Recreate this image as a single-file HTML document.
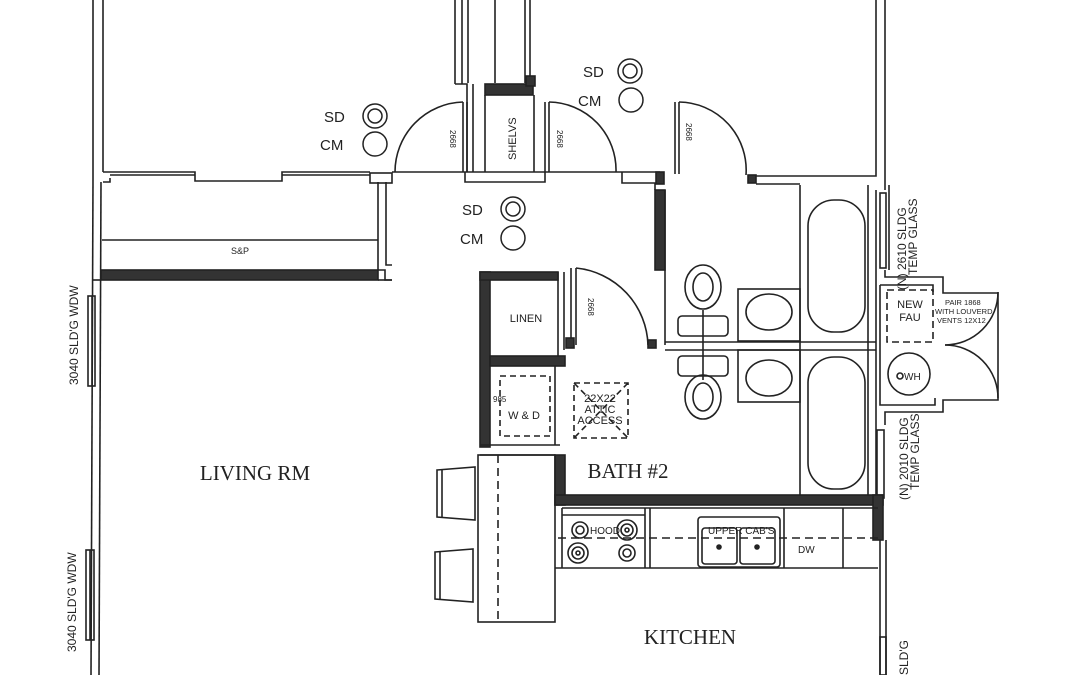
<!DOCTYPE html>
<html><head><meta charset="utf-8"><style>
html,body{margin:0;padding:0;background:#fff;}
svg{display:block;}
text{font-family:"Liberation Sans",sans-serif;fill:#222;}
.s{font-family:"Liberation Serif",serif;}
</style></head><body>
<svg width="1080" height="675" viewBox="0 0 1080 675" xmlns="http://www.w3.org/2000/svg" fill="none" stroke="#222" stroke-width="1.6">
<!-- left exterior wall -->
<line x1="93" y1="0" x2="93" y2="180"/><line x1="103" y1="0" x2="103" y2="172"/>
<line x1="93" y1="180" x2="91" y2="675"/><line x1="101" y1="182" x2="99" y2="675"/>
<line x1="93" y1="280" x2="101" y2="280"/>
<!-- windows left -->
<rect x="88" y="296" width="7" height="90"/><line x1="92" y1="296" x2="92" y2="386"/>
<rect x="86" y="550" width="8" height="90"/><line x1="90" y1="550" x2="90" y2="640"/>
<text transform="translate(78,385) rotate(-90)" font-size="12" fill="#222" stroke="none">3040 SLD'G WDW</text>
<text transform="translate(76,652) rotate(-90)" font-size="12" fill="#222" stroke="none">3040 SLD'G WDW</text>
<!-- bedroom bottom wall / closet -->
<polyline points="103,172 195,172 195,181 282,181 282,172 370,172"/>
<polyline points="110,175 195,175"/><polyline points="282,175 370,175"/>
<polyline points="103,182 110,182 110,178"/>
<rect x="370" y="173" width="22" height="10"/>
<line x1="102" y1="240" x2="378" y2="240"/>
<text x="240" y="254" font-size="9" text-anchor="middle" stroke="none">S&amp;P</text>
<rect x="101" y="270" width="277" height="10" fill="#333" stroke="#222"/>
<polyline points="378,182 378,270 385,270 385,280 392,280"/>
<polyline points="386,182 386,265 392,265"/>
<line x1="378" y1="280" x2="392" y2="280"/>
<!-- top hall wall -->
<line x1="392" y1="172" x2="660" y2="172"/>
<polyline points="465,172 465,182 545,182 545,172"/>
<polyline points="622,172 622,183 655,183 655,190"/>
<rect x="656" y="172" width="8" height="12" fill="#333"/>
<rect x="655" y="190" width="10" height="80" fill="#333"/>
<polyline points="665,190 665,345"/>
<!-- top closet -->
<line x1="455" y1="0" x2="455" y2="84"/><line x1="462" y1="0" x2="462" y2="84"/>
<polyline points="455,84 467,84 467,172"/><polyline points="473,84 473,172"/>
<line x1="468" y1="0" x2="468" y2="83"/><line x1="495" y1="0" x2="495" y2="83"/><line x1="525" y1="0" x2="525" y2="83"/><line x1="530" y1="0" x2="530" y2="76"/>
<rect x="485" y="84" width="48" height="11" fill="#333"/><rect x="526" y="76" width="9" height="10" fill="#333"/>
<line x1="485" y1="95" x2="485" y2="172"/><line x1="534" y1="95" x2="534" y2="172"/>
<text transform="translate(516,160) rotate(-90)" font-size="11" stroke="none">SHELVS</text>
<!-- doors top -->
<line x1="463" y1="102" x2="463" y2="172"/><line x1="467" y1="102" x2="467" y2="172"/>
<path d="M463,102 A70,70 0 0 0 395,172"/>
<text transform="translate(450,130) rotate(90)" font-size="8" stroke="none">2668</text>
<line x1="545" y1="102" x2="545" y2="172"/><line x1="549" y1="102" x2="549" y2="172"/>
<path d="M549,102 A68,68 0 0 1 616,172"/>
<text transform="translate(557,130) rotate(90)" font-size="8" stroke="none">2668</text>
<line x1="675" y1="102" x2="675" y2="174"/><line x1="679" y1="102" x2="679" y2="174"/>
<path d="M679,102 A68,68 0 0 1 746,175"/>
<text transform="translate(686,123) rotate(90)" font-size="8" stroke="none">2668</text>
<rect x="748" y="175" width="8" height="8" fill="#333"/>
<polyline points="756,176 876,176 876,0"/><polyline points="756,184 800,184"/>
<line x1="885" y1="0" x2="885" y2="190"/>
<!-- SD CM -->
<g stroke-width="1.5">
<circle cx="630" cy="71" r="12"/><circle cx="630" cy="71" r="7"/><circle cx="631" cy="100" r="12"/>
<circle cx="375" cy="116" r="12"/><circle cx="375" cy="116" r="7"/><circle cx="375" cy="144" r="12"/>
<circle cx="513" cy="209" r="12"/><circle cx="513" cy="209" r="7"/><circle cx="513" cy="238" r="12"/>
</g>
<g font-size="15" stroke="none">
<text x="583" y="77">SD</text><text x="578" y="106">CM</text>
<text x="324" y="122">SD</text><text x="320" y="150">CM</text>
<text x="462" y="215">SD</text><text x="460" y="244">CM</text>
</g>
<!-- bath 1 / right -->
<line x1="800" y1="185" x2="800" y2="497"/><line x1="868" y1="185" x2="868" y2="497"/>
<rect x="808" y="200" width="57" height="132" rx="26"/>
<rect x="808" y="357" width="57" height="132" rx="26"/>
<rect x="738" y="289" width="62" height="52"/><rect x="738" y="350" width="62" height="52"/>
<ellipse cx="769" cy="312" rx="23" ry="18"/><ellipse cx="769" cy="378" rx="23" ry="18"/>
<line x1="665" y1="342" x2="876" y2="342"/><line x1="665" y1="350" x2="876" y2="350"/>
<!-- toilets -->
<ellipse cx="703" cy="287" rx="18" ry="22"/><ellipse cx="703" cy="287" rx="10" ry="14"/>
<rect x="678" y="316" width="50" height="20" rx="4"/><rect x="678" y="356" width="50" height="20" rx="4"/>
<ellipse cx="703" cy="397" rx="18" ry="22"/><ellipse cx="703" cy="397" rx="10" ry="14"/>
<line x1="703" y1="310" x2="703" y2="380"/>
<!-- right exterior -->
<line x1="876" y1="190" x2="876" y2="495"/><line x1="889" y1="185" x2="889" y2="270"/>
<rect x="880" y="193" width="6" height="75"/>
<text transform="translate(906,290) rotate(-90)" font-size="12" stroke="none">(N) 2610 SLDG</text>
<text transform="translate(917,275) rotate(-90)" font-size="12" stroke="none">TEMP GLASS</text>
<!-- FAU closet -->
<polyline points="885,270 885,277 943,277 943,293 998,293 998,400 943,400 943,412 885,412 885,425"/>
<polyline points="880,285 880,405 935,405 935,398"/>
<polyline points="880,285 933,285 933,292"/>
<rect x="887" y="290" width="46" height="52" stroke-dasharray="7,4"/>
<text x="910" y="308" font-size="11" text-anchor="middle" stroke="none">NEW</text>
<text x="910" y="321" font-size="11" text-anchor="middle" stroke="none">FAU</text>
<circle cx="909" cy="374" r="21"/><circle cx="900" cy="376" r="3"/>
<text x="904" y="380" font-size="10" stroke="none">WH</text>
<path d="M945,345 A53,53 0 0 0 998,292"/><path d="M945,345 A53,53 0 0 1 998,398"/>
<text x="945" y="305" font-size="7.5" stroke="none">PAIR 1868</text>
<text x="935" y="314" font-size="7.5" stroke="none">WITH LOUVERD</text>
<text x="937" y="323" font-size="7.5" stroke="none">VENTS 12X12</text>
<!-- right lower window -->
<rect x="877" y="430" width="7" height="68"/>
<text transform="translate(908,500) rotate(-90)" font-size="12" stroke="none">(N) 2010 SLDG</text>
<text transform="translate(919,490) rotate(-90)" font-size="12" stroke="none">TEMP GLASS</text>
<line x1="880" y1="540" x2="880" y2="675"/><line x1="886" y1="540" x2="886" y2="675"/>
<rect x="880" y="637" width="6" height="38"/>
<text transform="translate(908,675) rotate(-90)" font-size="12" stroke="none">SLD'G</text>
<!-- linen / W&D -->
<rect x="480" y="272" width="10" height="175" fill="#333"/>
<rect x="480" y="272" width="78" height="8" fill="#333"/>
<line x1="558" y1="272" x2="558" y2="362"/><line x1="564" y1="272" x2="564" y2="350"/>
<rect x="490" y="356" width="75" height="10" fill="#333"/>
<text x="526" y="322" font-size="11" text-anchor="middle" stroke="none">LINEN</text>
<rect x="500" y="376" width="50" height="60" stroke-dasharray="6,4"/>
<text x="524" y="419" font-size="11" text-anchor="middle" stroke="none">W &amp; D</text>
<text x="493" y="402" font-size="8" stroke="none">985</text>
<line x1="555" y1="366" x2="555" y2="445"/>
<rect x="574" y="383" width="54" height="55" stroke-dasharray="6,4"/>
<line x1="574" y1="383" x2="628" y2="438" stroke-dasharray="6,4"/><line x1="628" y1="383" x2="574" y2="438" stroke-dasharray="6,4"/>
<text x="600" y="402" font-size="11" text-anchor="middle" stroke="none">22X22</text>
<text x="600" y="413" font-size="11" text-anchor="middle" stroke="none">ATTIC</text>
<text x="600" y="424" font-size="11" text-anchor="middle" stroke="none">ACCESS</text>
<!-- bath2 door -->
<line x1="571" y1="268" x2="571" y2="345"/><line x1="576" y1="268" x2="576" y2="345"/>
<rect x="566" y="338" width="8" height="10" fill="#333"/>
<path d="M576,268 A80,80 0 0 1 648,345"/><rect x="648" y="340" width="8" height="8" fill="#333"/>
<text transform="translate(588,298) rotate(90)" font-size="8" stroke="none">2668</text>
<!-- bath2 walls -->
<rect x="555" y="455" width="10" height="50" fill="#333"/>
<rect x="555" y="495" width="328" height="10" fill="#333"/>
<rect x="873" y="495" width="10" height="45" fill="#333"/>
<line x1="480" y1="445" x2="560" y2="445"/><line x1="480" y1="455" x2="555" y2="455"/>
<!-- bar counter -->
<rect x="478" y="455" width="77" height="167"/>
<line x1="498" y1="455" x2="498" y2="622" stroke-dasharray="8,5"/>
<path d="M437,470 L475,467 L475,520 L437,517 Z"/><line x1="442" y1="470" x2="442" y2="517"/>
<path d="M435,552 L473,549 L473,602 L435,599 Z"/><line x1="440" y1="552" x2="440" y2="599"/>
<!-- kitchen counter -->
<polyline points="555,568 878,568"/>
<line x1="562" y1="508" x2="878" y2="508"/>
<line x1="562" y1="508" x2="562" y2="568"/><line x1="645" y1="508" x2="645" y2="568"/><line x1="650" y1="508" x2="650" y2="568"/>
<line x1="784" y1="508" x2="784" y2="568"/><line x1="843" y1="508" x2="843" y2="568"/>
<line x1="558" y1="538" x2="878" y2="538" stroke-dasharray="8,5"/>
<line x1="562" y1="515" x2="645" y2="515"/>
<rect x="698" y="517" width="82" height="50" rx="3"/>
<rect x="702" y="528" width="35" height="36" rx="3"/><rect x="740" y="528" width="35" height="36" rx="3"/>
<circle cx="719" cy="547" r="2" fill="#222"/><circle cx="757" cy="547" r="2" fill="#222"/>
<text x="708" y="534" font-size="10" stroke="none">UPPER CAB'S</text>
<text x="798" y="553" font-size="10" stroke="none">DW</text>
<g>
<circle cx="580" cy="530" r="8"/><circle cx="580" cy="530" r="4"/>
<circle cx="627" cy="530" r="10"/><circle cx="627" cy="530" r="6"/><circle cx="627" cy="530" r="2"/>
<circle cx="578" cy="553" r="10"/><circle cx="578" cy="553" r="6"/><circle cx="578" cy="553" r="2"/>
<circle cx="627" cy="553" r="8"/><circle cx="627" cy="553" r="4"/>
</g>
<text x="590" y="534" font-size="10" stroke="none">HOOD</text>
<!-- room labels -->
<text class="s" x="255" y="480" font-size="21" text-anchor="middle" stroke="none">LIVING RM</text>
<text class="s" x="628" y="478" font-size="21" text-anchor="middle" stroke="none">BATH #2</text>
<text class="s" x="690" y="644" font-size="21" text-anchor="middle" stroke="none">KITCHEN</text>
</svg>
</body></html>
